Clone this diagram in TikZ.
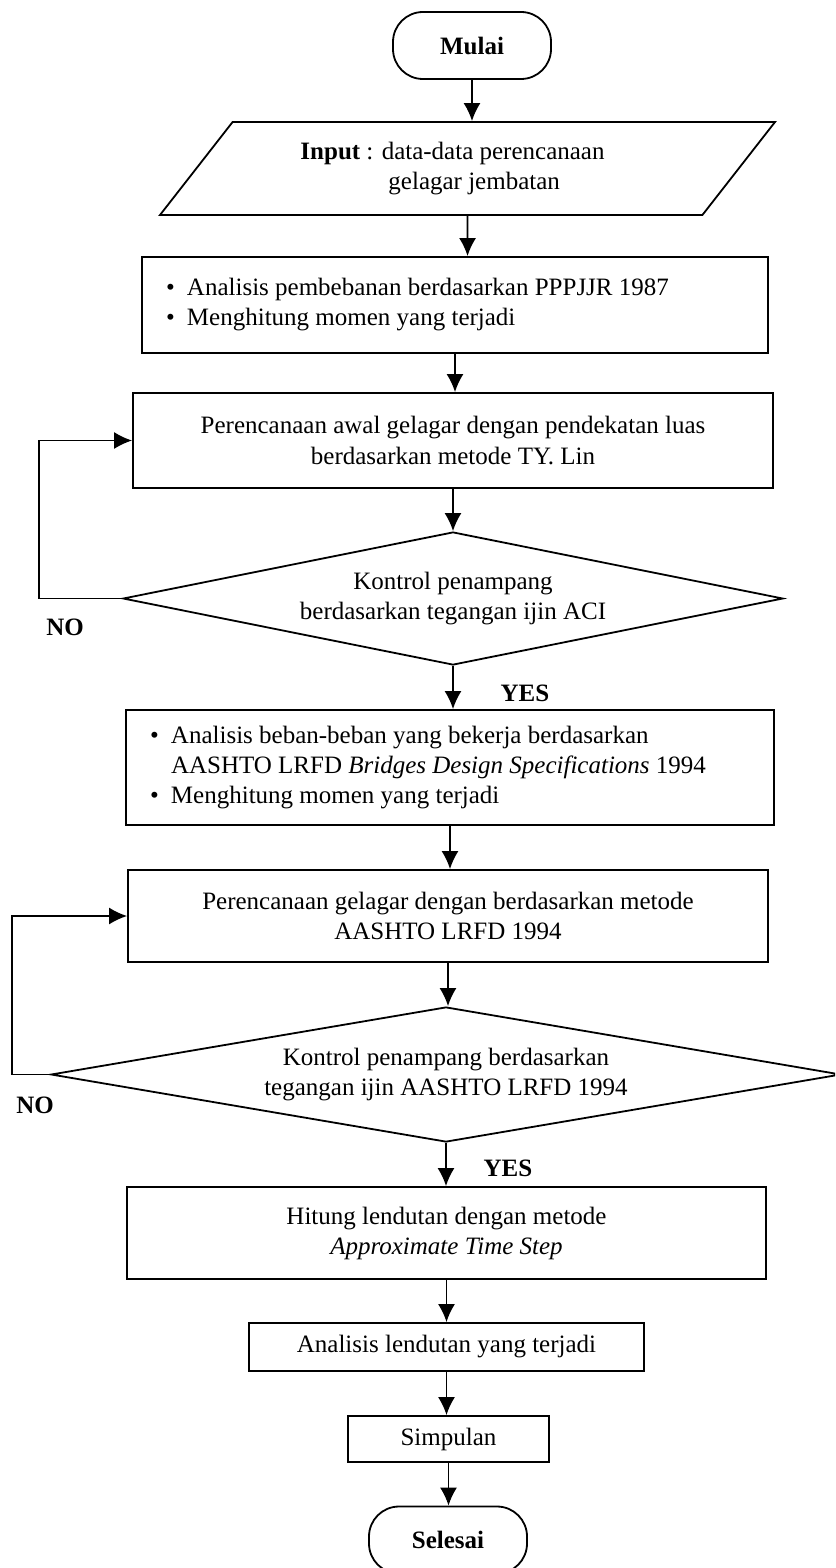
\documentclass[tikz,border=0pt]{standalone}
\usepackage{fontspec}
\setmainfont{Liberation Serif}
\usetikzlibrary{shapes.geometric, arrows.meta, calc}
\tikzset{every picture/.style={>={Latex[length=9pt,width=8.5pt]}}}
\newcommand{\itembul}{\makebox[10.5pt][l]{\textbullet}}
\newcommand{\plainspace}{\spaceskip=0pt\xspaceskip=0pt\relax}

\begin{document}
\begin{tikzpicture}[
    x=0.5pt, y=-0.5pt,
    line width=0.9pt,
    every node/.style={font=\fontsize{12.5}{15}\selectfont},
    terminal/.style={draw, rounded corners=15pt, minimum width=79pt, minimum height=33.5pt,
        font=\fontsize{12.5}{15}\selectfont\bfseries},
    inputbox/.style={draw, trapezium, trapezium left angle=36, trapezium right angle=144,
        trapezium stretches body=true, minimum width=307.5pt, minimum height=46.5pt,
        align=left, inner sep=0pt},
    procbox/.style={draw, rectangle, align=center},
    listbox/.style={draw, rectangle, align=left, inner xsep=12pt},
    decision/.style={draw, diamond, aspect=5, inner sep=0pt, align=center},
    answer/.style={font=\fontsize{12.5}{15}\selectfont\bfseries}
]

\useasboundingbox (0,0) rectangle (835,1568);
\clip (0,0) rectangle (835,1568);

% ------------------------------------------------------------
% Start and input
% ------------------------------------------------------------
\node[terminal] (start) at (472,45.5) {Mulai};
\node[inputbox] (input) at (467.5,168.5)
    {\plainspace\textbf{Input} : data-data perencanaan\hspace*{15pt}\\\hspace*{44pt}gelagar jembatan};

% ------------------------------------------------------------
% Preliminary design (PPPJJR 1987, TY. Lin)
% ------------------------------------------------------------
\node[listbox, text width=289pt, minimum height=48pt] (load1) at (455,305)
    {\plainspace\itembul Analisis pembebanan berdasarkan PPPJJR 1987\\
     \itembul Menghitung momen yang terjadi};
\node[procbox, minimum width=320pt, minimum height=47.5pt] (design1) at (453,440.5)
    {Perencanaan awal gelagar dengan pendekatan luas\\berdasarkan metode TY. Lin};
\node[decision, minimum width=330pt, minimum height=66.5pt] (check1) at (453,598.5)
    {Kontrol penampang\\berdasarkan tegangan ijin ACI};

% ------------------------------------------------------------
% Design after AASHTO LRFD 1994
% ------------------------------------------------------------
\node[listbox, text width=300pt, minimum height=57.5pt] (load2) at (450,767.5)
    {\plainspace\itembul Analisis beban-beban yang bekerja berdasarkan\\
     \hspace*{10.5pt}AASHTO LRFD \textit{Bridges Design Specifications} 1994\\
     \itembul Menghitung momen yang terjadi};
\node[procbox, minimum width=320pt, minimum height=46pt] (design2) at (448,916)
    {Perencanaan gelagar dengan berdasarkan metode\\AASHTO LRFD 1994};
\node[decision, aspect=5.85, minimum width=395pt, minimum height=67.5pt] (check2) at (446,1074.5)
    {Kontrol penampang berdasarkan\\tegangan ijin AASHTO LRFD 1994};

% ------------------------------------------------------------
% Deflection and end
% ------------------------------------------------------------
\node[procbox, minimum width=319.5pt, minimum height=46pt] (deflect) at (446.5,1233)
    {Hitung lendutan dengan metode\\\textit{Approximate Time Step}};
\node[procbox, minimum width=197.5pt, minimum height=24pt] (result) at (446.5,1347)
    {Analisis lendutan yang terjadi};
\node[procbox, minimum width=100.5pt, minimum height=23pt] (concl) at (448.5,1439) {Simpulan};
\node[terminal] (finish) at (448,1540) {Selesai};

% Main flow
\draw[->] (start) -- (start |- input.north);
\draw[->] (input) -- (input.south |- load1.north);
\draw[->] (load1) -- (load1 |- design1.north);
\draw[->] (design1) -- (design1 |- check1.north);
\draw[->] (check1) -- (check1 |- load2.north);
\draw[->] (load2) -- (load2 |- design2.north);
\draw[->] (design2) -- (design2 |- check2.north);
\draw[->] (check2) -- (check2 |- deflect.north);
\draw[->] (deflect) -- (deflect |- result.north);
\draw[->] (result) -- (result |- concl.north);
\draw[->] (concl) -- (concl |- finish.north);

% Loops back on NO
\coordinate (backA) at (39,598.5);
\coordinate (backB) at (12,1074.5);
\draw[->] (check1.west) -- (check1.west -| backA) |- (design1.west);
\draw[->] (check2.west) -- (check2.west -| backB) |- (design2.west);

% Answers
\node[answer] (no1)  at (65,627)   {NO};
\node[answer] (yes1) at (525,693)  {YES};
\node[answer] (no2)  at (35,1105)  {NO};
\node[answer] (yes2) at (508,1168) {YES};

\end{tikzpicture}
\end{document}
